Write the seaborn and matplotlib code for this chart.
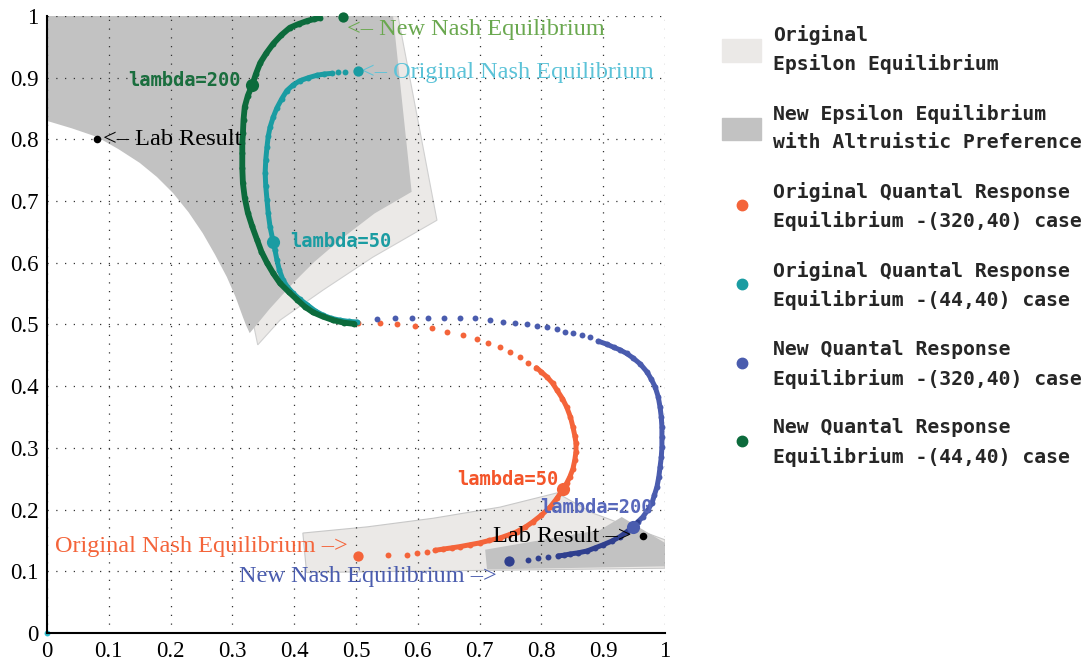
import matplotlib
matplotlib.use('Agg')
import matplotlib.pyplot as plt
from matplotlib.patches import Patch
from matplotlib.lines import Line2D
import seaborn as sns

# epsilon equilibrium regions (upper-left and lower-right pieces)
orig_eps_top_x = [0.0, 0.568, 0.631, 0.527, 0.447, 0.377, 0.341, 0.33, 0.30, 0.20, 0.10, 0.0]
orig_eps_top_y = [1.0, 1.0, 0.669, 0.609, 0.556, 0.507, 0.467, 0.52, 0.60, 0.74, 0.81, 0.84]
new_eps_top_x = [0.0, 0.56, 0.59, 0.53, 0.474, 0.432, 0.398, 0.36, 0.328, 0.322, 0.317, 0.305, 0.291,
                 0.272, 0.252, 0.229, 0.204, 0.178, 0.15, 0.116, 0.081, 0.04, 0.0]
new_eps_top_y = [1.0, 1.0, 0.715, 0.68, 0.637, 0.601, 0.567, 0.525, 0.486, 0.499, 0.512, 0.545, 0.577,
                 0.613, 0.648, 0.682, 0.713, 0.739, 0.762, 0.784, 0.804, 0.818, 0.83]
orig_eps_bot_x = [0.414, 0.518, 0.625, 0.733, 0.825, 0.884, 1.0, 1.0, 0.42]
orig_eps_bot_y = [0.162, 0.172, 0.186, 0.204, 0.227, 0.194, 0.151, 0.105, 0.098]
new_eps_bot_x = [0.709, 0.895, 0.93, 1.0, 1.0, 0.712]
new_eps_bot_y = [0.135, 0.167, 0.188, 0.146, 0.108, 0.103]

# original QRE (320,40)
orange_x = [0.503, 0.539, 0.566, 0.595, 0.623, 0.647, 0.673, 0.695, 0.714, 0.733, 0.749, 0.765, 0.778, 0.792,
            0.800, 0.809, 0.818, 0.825, 0.834, 0.841, 0.847, 0.851, 0.854, 0.856, 0.856, 0.854, 0.851, 0.846,
            0.841, 0.835, 0.825, 0.814, 0.800, 0.786, 0.773, 0.760, 0.747, 0.733, 0.716, 0.700, 0.684, 0.668,
            0.655, 0.641, 0.628, 0.615, 0.598, 0.582, 0.552]
orange_y = [0.502, 0.502, 0.500, 0.497, 0.494, 0.488, 0.483, 0.476, 0.470, 0.464, 0.455, 0.447, 0.438, 0.430,
            0.423, 0.415, 0.405, 0.394, 0.380, 0.366, 0.350, 0.334, 0.320, 0.308, 0.294, 0.280, 0.266, 0.253,
            0.243, 0.233, 0.218, 0.204, 0.191, 0.180, 0.171, 0.164, 0.159, 0.154, 0.150, 0.146, 0.143, 0.140,
            0.138, 0.136, 0.134, 0.131, 0.129, 0.127, 0.126]
# new QRE (320,40)
blue_x = [0.534, 0.563, 0.591, 0.617, 0.643, 0.668, 0.693, 0.717, 0.738, 0.757, 0.776, 0.793, 0.809, 0.825,
          0.838, 0.851, 0.866, 0.879, 0.892, 0.906, 0.917, 0.927, 0.938, 0.948, 0.960, 0.971, 0.978, 0.984,
          0.989, 0.992, 0.994, 0.995, 0.995, 0.995, 0.994, 0.992, 0.990, 0.987, 0.983, 0.979, 0.972, 0.964,
          0.956, 0.948, 0.938, 0.927, 0.914, 0.900, 0.887, 0.874, 0.860, 0.846, 0.836, 0.827, 0.811, 0.794,
          0.778]
blue_y = [0.509, 0.510, 0.510, 0.510, 0.510, 0.510, 0.510, 0.507, 0.504, 0.502, 0.501, 0.498, 0.496, 0.493,
          0.488, 0.486, 0.483, 0.480, 0.473, 0.468, 0.463, 0.459, 0.453, 0.446, 0.436, 0.423, 0.411, 0.399,
          0.383, 0.366, 0.350, 0.334, 0.318, 0.301, 0.285, 0.269, 0.253, 0.237, 0.224, 0.211, 0.199, 0.188,
          0.180, 0.172, 0.164, 0.156, 0.149, 0.143, 0.138, 0.133, 0.130, 0.128, 0.126, 0.125, 0.123, 0.122,
          0.118]
# original QRE (44,40)
teal_x = [0.502, 0.488, 0.474, 0.460, 0.447, 0.434, 0.421, 0.409, 0.398, 0.389, 0.382, 0.376, 0.372, 0.369,
          0.366, 0.361, 0.358, 0.356, 0.354, 0.353, 0.354, 0.356, 0.358, 0.361, 0.366, 0.372, 0.380, 0.388,
          0.398, 0.409, 0.423, 0.437, 0.449, 0.461, 0.471, 0.482]
teal_y = [0.504, 0.505, 0.507, 0.510, 0.515, 0.522, 0.532, 0.541, 0.551, 0.561, 0.572, 0.588, 0.605, 0.620,
          0.634, 0.658, 0.680, 0.702, 0.724, 0.746, 0.767, 0.788, 0.805, 0.820, 0.836, 0.851, 0.866, 0.879,
          0.888, 0.895, 0.900, 0.904, 0.906, 0.907, 0.909, 0.909]
# new QRE (44,40)
green_x = [0.497, 0.480, 0.463, 0.446, 0.430, 0.417, 0.405, 0.391, 0.377, 0.366, 0.356, 0.347, 0.340, 0.332,
           0.325, 0.320, 0.317, 0.316, 0.316, 0.316, 0.317, 0.318, 0.320, 0.325, 0.332, 0.338, 0.345, 0.355,
           0.366, 0.379, 0.393, 0.407, 0.421, 0.432, 0.442]
green_y = [0.501, 0.503, 0.507, 0.513, 0.520, 0.529, 0.540, 0.553, 0.567, 0.583, 0.600, 0.618, 0.637, 0.659,
           0.681, 0.705, 0.729, 0.754, 0.778, 0.794, 0.810, 0.832, 0.853, 0.871, 0.888, 0.906, 0.924, 0.940,
           0.955, 0.969, 0.981, 0.987, 0.992, 0.995, 0.997]

# Nash equilibria, lambda points, lab results
nash_x = {'orange': 0.503, 'blue': 0.748, 'teal': 0.503, 'green': 0.479}
nash_y = {'orange': 0.125, 'blue': 0.116, 'teal': 0.911, 'green': 0.998}
lam_x = {'orange': 0.835, 'blue': 0.948, 'teal': 0.366, 'green': 0.332}
lam_y = {'orange': 0.233, 'blue': 0.172, 'teal': 0.634, 'green': 0.888}
lab_x = [0.081, 0.964]
lab_y = [0.800, 0.157]

C = {'orange': '#f4643a', 'blue': '#4a5cae', 'teal': '#1a9ca2', 'green': '#0c6b3c'}
C_END = {'orange': '#f4643a', 'blue': '#2f3f8e', 'teal': '#1a9ca2', 'green': '#0c6b3c'}
LIGHT = '#ebe9e7'
DARK = '#c2c2c2'

sns.set_style('white')
plt.rcParams['font.family'] = ['Liberation Serif', 'DejaVu Serif']
mono = {'family': 'DejaVu Sans Mono', 'weight': 'bold'}

fig = plt.figure(figsize=(10.92, 6.66), dpi=100)
ax = fig.add_axes([47 / 1092, 33 / 666, 618 / 1092, 617 / 666])

ax.fill(orig_eps_top_x, orig_eps_top_y, color=LIGHT, ec='#d0d0d0', lw=0.8, zorder=1)
ax.fill(new_eps_top_x, new_eps_top_y, color=DARK, lw=0, zorder=1.1)
ax.fill(orig_eps_bot_x, orig_eps_bot_y, color=LIGHT, ec='#c8c8c8', lw=0.8, zorder=1)
ax.fill(new_eps_bot_x, new_eps_bot_y, color=DARK, lw=0, zorder=1.1)

ax.grid(True, color='#333333', linestyle=(0, (1, 6)), linewidth=0.9)
ax.set_axisbelow(False)

# dotted curves, with the dense stretches drawn as thick lines; split = where the colour darkens
curves = [('orange', orange_x, orange_y, 14, 45, 49),
          ('blue', blue_x, blue_y, 19, 54, 43),
          ('teal', teal_x, teal_y, 0, 34, 36),
          ('green', green_x, green_y, 0, 35, 35)]
for name, xs, ys, a, b, k in curves:
    for lo, hi, col in [(0, k, C[name]), (k, len(xs), C_END[name])]:
        if hi <= lo:
            continue
        sns.scatterplot(x=xs[lo:hi], y=ys[lo:hi], color=col, s=18, linewidth=0, ax=ax, zorder=3)
        la, lb = max(a, lo), min(b, hi)
        if lb - la > 1:
            sns.lineplot(x=xs[max(la - 1, 0):lb], y=ys[max(la - 1, 0):lb], sort=False, estimator=None,
                         color=col, lw=4.2 if name == 'green' else 3.6, ax=ax, zorder=3)
    sns.scatterplot(x=[nash_x[name]], y=[nash_y[name]], color=C_END[name], s=55, linewidth=0,
                    ax=ax, zorder=4, clip_on=False)
    sns.scatterplot(x=[lam_x[name]], y=[lam_y[name]], color=C[name], s=90, linewidth=0,
                    ax=ax, zorder=4)
sns.scatterplot(x=[0.0], y=[0.0], color='#30c0d0', s=18, linewidth=0, ax=ax, zorder=5, clip_on=False)
sns.scatterplot(x=lab_x, y=lab_y, color='black', s=30, linewidth=0, ax=ax, zorder=5)

fs = 17.5
ax.text(0.485, 0.978, '<– New Nash Equilibrium', color='#6aa84f', fontsize=fs, va='center')
ax.text(0.508, 0.908, '<– Original Nash Equilibrium', color='#5cc3d8', fontsize=fs, va='center')
ax.text(0.09, 0.800, '<– Lab Result', color='black', fontsize=fs, va='center')
ax.text(0.487, 0.141, 'Original Nash Equilibrium –>', color='#f4643a', fontsize=fs, va='center', ha='right')
ax.text(0.728, 0.092, 'New Nash Equilibrium –>', color='#4a5cae', fontsize=fs, va='center', ha='right')
ax.text(0.946, 0.157, 'Lab Result –>', color='black', fontsize=fs, va='center', ha='right')

ax.text(0.131, 0.895, 'lambda=200', color='#1a6e3e', fontsize=13.5, va='center', fontdict=mono)
ax.text(0.393, 0.635, 'lambda=50', color='#1a9ca2', fontsize=13.5, va='center', fontdict=mono)
ax.text(0.663, 0.248, 'lambda=50', color='#f4552a', fontsize=13.5, va='center', fontdict=mono)
ax.text(0.798, 0.203, 'lambda=200', color='#5868bb', fontsize=13.5, va='center', fontdict=mono)

ax.set_xlim(0, 1)
ax.set_ylim(0, 1)
ticks = [i / 10 for i in range(11)]
ax.set_xticks(ticks)
ax.set_yticks(ticks)
ax.set_xticklabels(['0'] + ['%.1f' % t for t in ticks[1:-1]] + ['1'])
ax.set_yticklabels(['0'] + ['%.1f' % t for t in ticks[1:-1]] + ['1'])
ax.tick_params(direction='in', length=4, width=1, labelsize=16.5, pad=6, colors='black')
for s in ['top', 'right']:
    ax.spines[s].set_visible(False)
for s in ['left', 'bottom']:
    ax.spines[s].set_color('black')
    ax.spines[s].set_linewidth(1.5)
    ax.spines[s].set_zorder(6)

handles = [Patch(color=LIGHT), Patch(color=DARK)] + [
    Line2D([], [], ls='', marker='o', ms=7.5, color=C[k]) for k in ['orange', 'teal', 'blue', 'green']]
labels = ['Original\nEpsilon Equilibrium',
          'New Epsilon Equilibrium\nwith Altruistic Preference',
          'Original Quantal Response\nEquilibrium -(320,40) case',
          'Original Quantal Response\nEquilibrium -(44,40) case',
          'New Quantal Response\nEquilibrium -(320,40) case',
          'New Quantal Response\nEquilibrium -(44,40) case']
leg = fig.legend(handles, labels, loc='upper left', bbox_to_anchor=(714 / 1092, 1 - 17 / 666),
                 frameon=False, prop={'family': 'DejaVu Sans Mono', 'weight': 'bold', 'size': 14.2},
                 handlelength=2.0, handleheight=1.4, handletextpad=0.6, labelspacing=1.5,
                 borderaxespad=0)
for t in leg.get_texts():
    t.set_linespacing(1.6)

fig.savefig('out.png', dpi=100)
